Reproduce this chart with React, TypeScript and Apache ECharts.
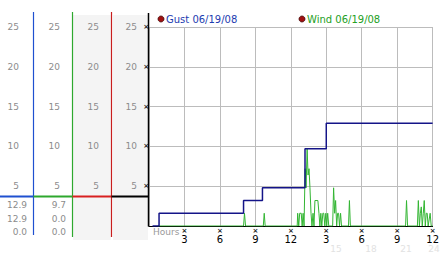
import React, { useEffect, useRef } from "react";
import * as echarts from "echarts";

const FONT = "DejaVu Sans";

// Gust (step line), hours of the day and mph
const gustHours = [0.3, 0.85, 8.0, 9.6, 13.2, 15.0, 24.0];
const gustValues = [0, 1.6, 3.2, 4.8, 9.7, 12.9, 12.9];

// Wind readings
const windHours = [
  0.75, 8.0, 8.08, 8.17, 9.67, 9.75, 9.83, 12.54, 12.58, 12.67, 12.75, 12.88, 12.96, 13.04, 13.12,
  13.21, 13.29, 13.38, 13.46, 13.54, 13.62, 13.71, 13.79, 13.88, 13.96, 14.04, 14.29, 14.38, 14.46,
  14.54, 14.62, 14.71, 14.79, 14.88, 14.96, 15.04, 15.12, 15.21, 15.54, 15.62, 15.71, 15.79, 15.88,
  15.96, 16.04, 16.12, 16.21, 16.29, 16.88, 16.96, 17.04, 21.71, 21.79, 21.88, 22.71, 22.79, 22.88,
  22.96, 23.04, 23.12, 23.21, 23.29, 23.38, 23.46, 23.54, 23.62, 23.79, 23.88, 24.0,
];
const windValues = [
  0, 0, 1.6, 0, 0, 1.6, 0, 0, 1.6, 0, 1.6, 1.6, 0, 1.6, 0,
  7.2, 4.8, 9.7, 6.4, 7.2, 4.8, 1.6, 0, 1.6, 0, 3.2, 3.2, 1.6, 0,
  1.6, 0, 1.6, 1.6, 0, 1.6, 0, 1.6, 0, 0, 4.8, 1.6, 3.2, 0,
  1.6, 1.6, 0, 1.6, 0, 0, 3.2, 0, 0, 3.2, 0, 0, 3.2, 0,
  1.6, 2.4, 0, 1.6, 3.2, 0, 1.6, 1.6, 0, 1.6, 0, 0,
];

// Summary values shown under the side scales
const gustStats = ["12.9", "12.9", "0.0"];
const windStats = ["9.7", "0.0", "0.0"];

// Legend labels
const legendLabels = ["Gust 06/19/08", "Wind 06/19/08"];

// Hour ticks and 12-hour clock labels
const hourTicks = [3, 6, 9, 12, 15, 18, 21, 24];
const clockLabels = ["3", "6", "9", "12", "3", "6", "9", "12"];
const fadedLabels = ["15", "18", "21", "24"];

const Y_MAX = 25;
const Y_STEP = 5;

export default function App() {
  const ref = useRef<HTMLDivElement>(null);

  useEffect(() => {
    if (!ref.current) return;
    const chart = echarts.init(ref.current, null, { renderer: "svg" });

    const labelAxis = (offset: number, margin: number) => ({
      type: "value",
      min: 0,
      max: Y_MAX,
      interval: Y_STEP,
      position: "left",
      offset,
      axisLine: { show: false },
      axisTick: { show: false },
      splitLine: { show: false },
      axisLabel: {
        showMinLabel: false,
        margin,
        color: "#8c8c8c",
        fontFamily: FONT,
        fontSize: 9,
      },
    });

    const grayText = (text: string, x: number, y: number, align = "right") => ({
      type: "text",
      x,
      y,
      z: 5,
      style: {
        text,
        fill: "#8c8c8c",
        font: `9px "${FONT}"`,
        textAlign: align,
        textVerticalAlign: "middle",
      },
    });

    const vline = (x: number, y1: number, y2: number, color: string, w = 1.2) => ({
      type: "line",
      z: 20,
      shape: { x1: x, y1, x2: x, y2 },
      style: { stroke: color, lineWidth: w },
    });
    const hline = (x1: number, x2: number, y: number, color: string) => ({
      type: "line",
      z: 21,
      shape: { x1, y1: y, x2, y2: y },
      style: { stroke: color, lineWidth: 2 },
    });

    const faintX = [336, 371, 406, 434];

    chart.setOption({
      animation: false,
      backgroundColor: "#ffffff",
      grid: { left: 149, top: 27, width: 288, height: 199 },
      xAxis: {
        type: "value",
        min: 0,
        max: 24,
        interval: 3,
        axisLine: { show: true, lineStyle: { color: "#000000", width: 1 } },
        axisTick: { show: false },
        splitLine: { show: true, lineStyle: { color: "#bcbcbc", width: 1 } },
        axisLabel: {
          margin: 1,
          showMinLabel: false,
          showMaxLabel: true,
          formatter: (v: number) => {
            const i = hourTicks.indexOf(v);
            if (i < 0) return "";
            return `{m|×}\n{v|${clockLabels[i]}}`;
          },
          rich: {
            m: { fontFamily: FONT, fontSize: 7, lineHeight: 7, color: "#222", fontWeight: "bold" },
            v: { fontFamily: FONT, fontSize: 10, lineHeight: 10, color: "#000" },
          },
        },
      },
      yAxis: [
        {
          type: "value",
          min: 0,
          max: Y_MAX,
          interval: Y_STEP,
          position: "left",
          axisLine: { show: false },
          axisTick: { show: false },
          splitLine: { show: true, lineStyle: { color: "#bcbcbc", width: 1 } },
          axisLabel: {
            showMinLabel: false,
            margin: 0,
            formatter: () => "×",
            color: "#222",
            fontFamily: FONT,
            fontSize: 7,
            fontWeight: "bold",
          },
        },
        labelAxis(116, 14),
        labelAxis(77, 12),
        labelAxis(38, 12),
        labelAxis(0, 12),
      ],
      series: [
        {
          type: "line",
          name: legendLabels[1],
          yAxisIndex: 0,
          showSymbol: false,
          symbol: "none",
          data: windHours.map((h, i) => [h, windValues[i]]),
          lineStyle: { color: "#33b533", width: 1 },
          z: 3,
        },
        {
          type: "line",
          name: legendLabels[0],
          yAxisIndex: 0,
          step: "end",
          showSymbol: false,
          symbol: "none",
          data: gustHours.map((h, i) => [h, gustValues[i]]),
          lineStyle: { color: "#141488", width: 1.5 },
          z: 4,
        },
      ],
      graphic: [
        // shaded side panels
        { type: "rect", z: -10, shape: { x: 73, y: 15, width: 38, height: 225 }, style: { fill: "#f4f4f4" } },
        { type: "rect", z: -10, shape: { x: 113, y: 15, width: 35, height: 225 }, style: { fill: "#f4f4f4" } },
        // column lines
        vline(33.5, 12, 235, "#1f50d0"),
        vline(72.5, 12, 237, "#2ea82e"),
        vline(111.5, 12, 237, "#c81e1e"),
        vline(148.5, 13, 226.5, "#000000", 1.5),
        // separator
        hline(0, 33.5, 196.5, "#1f50d0"),
        hline(33.5, 72.5, 196.5, "#2ea82e"),
        hline(72.5, 111.5, 196.5, "#d82020"),
        hline(111.5, 149, 196.5, "#000000"),
        // stats
        ...gustStats.map((t, i) => grayText(t, 27, 205 + i * 13.5)),
        ...windStats.map((t, i) => grayText(t, 66, 205 + i * 13.5)),
        // hours caption
        {
          type: "text",
          x: 153,
          y: 232,
          z: 5,
          style: { text: "Hours", fill: "#9a9a9a", font: `9px "${FONT}"`, textVerticalAlign: "middle" },
        },
        // faint 24h labels
        ...fadedLabels.map((t, i) => ({
          type: "text",
          x: faintX[i],
          y: 249,
          z: 5,
          style: { text: t, fill: "#e2e2e2", font: `9px "${FONT}"`, textAlign: "center", textVerticalAlign: "middle" },
        })),
        // legend
        { type: "circle", z: 5, shape: { cx: 161, cy: 19, r: 3 }, style: { fill: "#a01010", stroke: "#400000", lineWidth: 0.8 } },
        {
          type: "text",
          x: 166,
          y: 19,
          z: 5,
          style: { text: legendLabels[0], fill: "#1c3cb0", font: `10px "${FONT}"`, textVerticalAlign: "middle" },
        },
        { type: "circle", z: 5, shape: { cx: 302, cy: 19, r: 3 }, style: { fill: "#a01010", stroke: "#400000", lineWidth: 0.8 } },
        {
          type: "text",
          x: 307,
          y: 19,
          z: 5,
          style: { text: legendLabels[1], fill: "#24a024", font: `10px "${FONT}"`, textVerticalAlign: "middle" },
        },
      ],
    });

    return () => chart.dispose();
  }, []);

  return (
    <div
      ref={ref}
      style={{ position: "fixed", left: 0, top: 0, width: 442, height: 253, background: "#fff" }}
    />
  );
}
